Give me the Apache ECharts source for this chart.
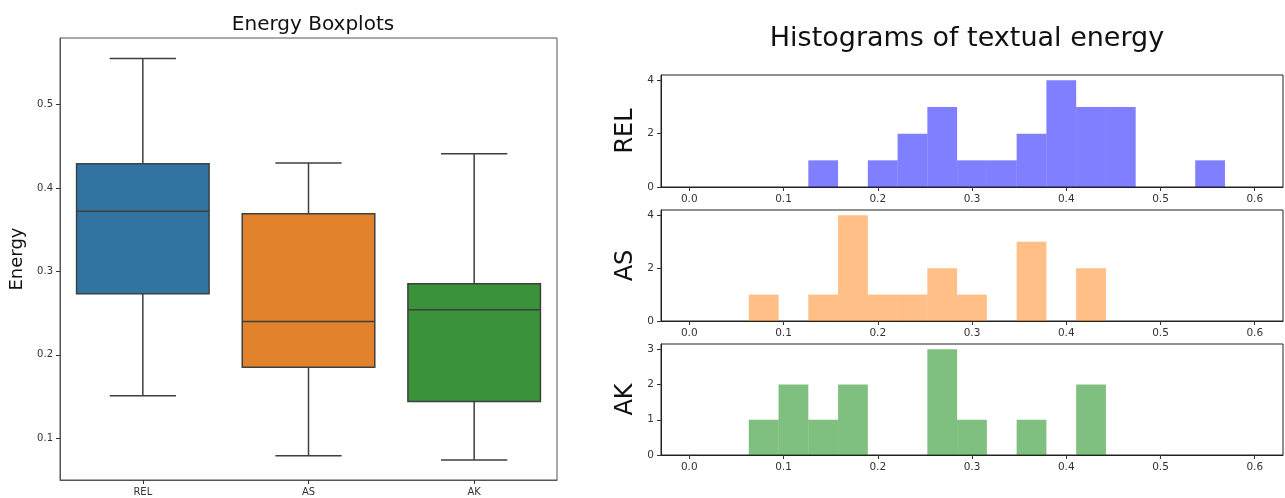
<!DOCTYPE html>
<html>
<head>
<meta charset="utf-8">
<script src="https://cdn.jsdelivr.net/npm/echarts@6/dist/echarts.min.js"></script>
<style>
  html, body { margin: 0; padding: 0; background: #fff; }
  #chart { width: 1285px; height: 498px; }
</style>
</head>
<body>
<div id="chart"></div>
<script>
// ---- data ----
const categories = ['REL', 'AS', 'AK'];
// box summaries: [lower whisker, Q1, median, Q3, upper whisker]
const relBox = [0.151, 0.273, 0.372, 0.429, 0.555];
const asBox  = [0.079, 0.185, 0.240, 0.369, 0.430];
const akBox  = [0.074, 0.144, 0.254, 0.285, 0.441];
const boxTicks = [0.1, 0.2, 0.3, 0.4, 0.5];

// histogram bins span 0 .. 0.6 in 19 equal bins
const binStart = 0.0;
const binEnd = 0.6;
const binCount = 19;
const relCounts = [0, 0, 0, 0, 1, 0, 1, 2, 3, 1, 1, 2, 4, 3, 3, 0, 0, 1, 0];
const asCounts  = [0, 0, 1, 0, 1, 4, 1, 1, 2, 1, 0, 3, 0, 2, 0, 0, 0, 0, 0];
const akCounts  = [0, 0, 1, 2, 1, 2, 0, 0, 3, 1, 0, 1, 0, 2, 0, 0, 0, 0, 0];
const histXTicks = [0.0, 0.1, 0.2, 0.3, 0.4, 0.5, 0.6];
const relYTicks = [0, 2, 4];
const asYTicks  = [0, 2, 4];
const akYTicks  = [0, 1, 2, 3];

// ---- styling ----
const FONT = 'DejaVu Sans';
const boxColors = ['#3274a1', '#e1812c', '#3a923a'];
const edgeColor = '#3f3f3f';
const histColors = ['rgba(0,0,255,0.5)', 'rgba(255,127,14,0.5)', 'rgba(0,128,0,0.5)'];
const tickColor = '#333';

function binData(counts) {
  const w = (binEnd - binStart) / binCount;
  return counts.map((c, i) => [binStart + i * w, binStart + (i + 1) * w, c]);
}

const boxData = [relBox, asBox, akBox].map((b, i) => [i].concat(b));

function renderBox(params, api) {
  const idx = api.value(0);
  const band = api.size([1, 0])[0];
  const cx = api.coord([idx, 0])[0];
  const half = band * 0.4;
  const capHalf = band * 0.2;
  const yLo = api.coord([idx, api.value(1)])[1];
  const yQ1 = api.coord([idx, api.value(2)])[1];
  const yMed = api.coord([idx, api.value(3)])[1];
  const yQ3 = api.coord([idx, api.value(4)])[1];
  const yHi = api.coord([idx, api.value(5)])[1];
  const ls = { stroke: edgeColor, lineWidth: 1.5 };
  return {
    type: 'group',
    children: [
      { type: 'line', shape: { x1: cx, y1: yQ3, x2: cx, y2: yHi }, style: ls },
      { type: 'line', shape: { x1: cx, y1: yQ1, x2: cx, y2: yLo }, style: ls },
      { type: 'line', shape: { x1: cx - capHalf, y1: yHi, x2: cx + capHalf, y2: yHi }, style: ls },
      { type: 'line', shape: { x1: cx - capHalf, y1: yLo, x2: cx + capHalf, y2: yLo }, style: ls },
      { type: 'rect', shape: { x: cx - half, y: yQ3, width: half * 2, height: yQ1 - yQ3 },
        style: { fill: boxColors[idx], stroke: edgeColor, lineWidth: 1.5 } },
      { type: 'line', shape: { x1: cx - half, y1: yMed, x2: cx + half, y2: yMed }, style: ls }
    ]
  };
}

function histRenderer(color) {
  return function (params, api) {
    const x0 = api.value(0), x1 = api.value(1), c = api.value(2);
    if (!c) return null;
    const p0 = api.coord([x0, c]);
    const p1 = api.coord([x1, 0]);
    return {
      type: 'rect',
      shape: { x: p0[0], y: p0[1], width: p1[0] - p0[0], height: p1[1] - p0[1] },
      style: { fill: color }
    };
  };
}

const histGrids = [
  { top: 75, height: 112 },
  { top: 210, height: 111 },
  { top: 344, height: 111 }
];

function histXAxis(gridIndex) {
  return {
    type: 'value', gridIndex, min: -0.03, max: 0.63,
    splitLine: { show: false },
    axisLine: { show: true, onZero: false, lineStyle: { color: '#222', width: 1 } },
    axisTick: { show: true, length: 4, customValues: histXTicks, lineStyle: { color: tickColor } },
    axisLabel: { customValues: histXTicks, color: tickColor, fontFamily: FONT, fontSize: 10.5, margin: 7,
                 formatter: v => v.toFixed(1) }
  };
}

function histYAxis(gridIndex, name, max, ticks) {
  return {
    type: 'value', gridIndex, min: 0, max,
    name, nameLocation: 'middle', nameRotate: 90, nameGap: 23,
    nameTextStyle: { fontFamily: FONT, fontSize: 24, color: '#111' },
    splitLine: { show: false },
    axisLine: { show: true, onZero: false, lineStyle: { color: '#222', width: 1 } },
    axisTick: { show: true, length: 4, customValues: ticks, lineStyle: { color: tickColor } },
    axisLabel: { customValues: ticks, color: tickColor, fontFamily: FONT, fontSize: 10.5, margin: 7 }
  };
}

const option = {
  backgroundColor: '#fff',
  animation: false,
  title: [
    { text: 'Energy Boxplots', left: 308, top: 10, textAlign: 'center',
      textStyle: { fontFamily: FONT, fontSize: 20, fontWeight: 'normal', color: '#111' } },
    { text: 'Histograms of textual energy', left: 962, top: 20, textAlign: 'center',
      textStyle: { fontFamily: FONT, fontSize: 27, fontWeight: 'normal', color: '#111' } }
  ],
  grid: [
    { left: 60, top: 38, width: 497, height: 442, show: true, borderColor: '#555', borderWidth: 1 },
    ...histGrids.map(g => ({ left: 661, width: 622, top: g.top, height: g.height,
                             show: true, borderColor: '#222', borderWidth: 1 }))
  ],
  xAxis: [
    {
      type: 'category', gridIndex: 0, data: categories,
      axisLine: { show: true, onZero: false, lineStyle: { color: '#555' } },
      axisTick: { show: true, alignWithLabel: true, length: 4, lineStyle: { color: tickColor } },
      axisLabel: { color: tickColor, fontFamily: FONT, fontSize: 10, margin: 7 }
    },
    histXAxis(1), histXAxis(2), histXAxis(3)
  ],
  yAxis: [
    {
      type: 'value', gridIndex: 0, min: 0.0499, max: 0.5797,
      name: 'Energy', nameLocation: 'middle', nameRotate: 90, nameGap: 34,
      nameTextStyle: { fontFamily: FONT, fontSize: 18, color: '#111' },
      splitLine: { show: false },
      axisLine: { show: true, onZero: false, lineStyle: { color: '#555' } },
      axisTick: { show: true, length: 4, customValues: boxTicks, lineStyle: { color: tickColor } },
      axisLabel: { customValues: boxTicks, color: tickColor, fontFamily: FONT, fontSize: 10, margin: 7,
                   formatter: v => v.toFixed(1) }
    },
    histYAxis(1, 'REL', 4.2, relYTicks),
    histYAxis(2, 'AS', 4.2, asYTicks),
    histYAxis(3, 'AK', 3.15, akYTicks)
  ],
  series: [
    { type: 'custom', xAxisIndex: 0, yAxisIndex: 0, data: boxData, renderItem: renderBox,
      encode: { x: 0, y: [1, 2, 3, 4, 5] } },
    { type: 'custom', name: 'REL', xAxisIndex: 1, yAxisIndex: 1, data: binData(relCounts),
      renderItem: histRenderer(histColors[0]), encode: { x: [0, 1], y: 2 } },
    { type: 'custom', name: 'AS', xAxisIndex: 2, yAxisIndex: 2, data: binData(asCounts),
      renderItem: histRenderer(histColors[1]), encode: { x: [0, 1], y: 2 } },
    { type: 'custom', name: 'AK', xAxisIndex: 3, yAxisIndex: 3, data: binData(akCounts),
      renderItem: histRenderer(histColors[2]), encode: { x: [0, 1], y: 2 } }
  ]
};

const chart = echarts.init(document.getElementById('chart'), null, { renderer: 'canvas' });
chart.setOption(option);
</script>
</body>
</html>
